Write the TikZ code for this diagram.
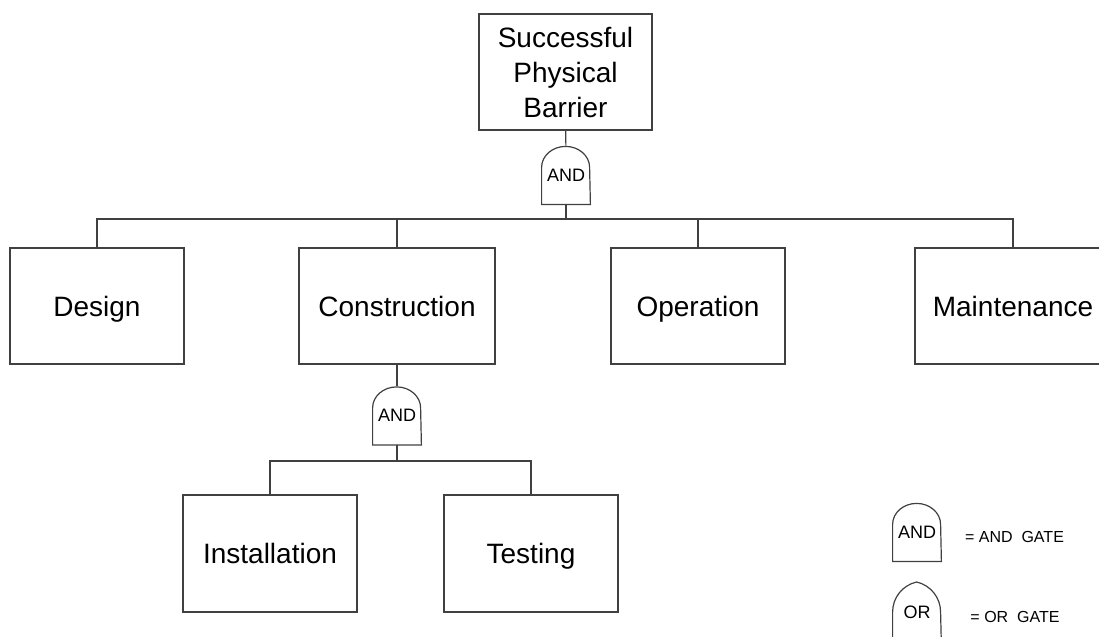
\documentclass[tikz,border=0pt]{standalone}
\usepackage{fontspec}
\setmainfont{Liberation Sans}
\begin{document}
\begin{tikzpicture}[x=0.5pt, y=-0.5pt,
    wire/.style = {draw=black!75, line width=0.6pt},
    box/.style = {wire, shape=rectangle, align=center,
      minimum width=87pt, minimum height=58pt, inner sep=0pt,
      font=\fontsize{14}{17.5}\selectfont},
    event/.style = {box, text height=13pt, text depth=3pt},
    widebox/.style = {event, minimum width=98pt},
    andgate/.style = {minimum width=24pt, minimum height=29pt, inner sep=0pt,
      font=\fontsize{9}{10}\selectfont,
      append after command={\pgfextra{\draw[wire] (\tikzlastnode.south west)
        -- ++(0,18.5pt) arc[start angle=180, end angle=0, x radius=12pt, y radius=10.5pt]
        -- (\tikzlastnode.south east) -- cycle;}}},
    orgate/.style = {minimum width=24pt, minimum height=29pt, inner sep=0pt,
      font=\fontsize{9}{10}\selectfont,
      append after command={\pgfextra{\draw[wire] ([yshift=-2.5pt]\tikzlastnode.south west)
        -- (\tikzlastnode.west) arc[start angle=180, end angle=102.7, radius=15.375pt]
        arc[start angle=77.3, end angle=0, radius=15.375pt]
        -- ([yshift=-2.5pt]\tikzlastnode.south east)
        to[bend right=30] ([yshift=-2.5pt]\tikzlastnode.south west);}}},
    legend/.style = {font=\fontsize{8}{9}\selectfont, inner sep=0pt}]
  \clip (0,0) rectangle (1099,637);

  % top event and first gate
  \node[box, minimum width=86.5pt] (top) at (565.5,72) {Successful\\Physical\\Barrier};
  \node[andgate] (g1) at (566,175) {AND};
  \node[event] (design) at (97,306) {Design};
  \node[widebox] (constr) at (397,306) {Construction};
  \node[event] (oper) at (698,306) {Operation};
  \node[widebox] (maint) at (1013,306) {Maintenance};
  \coordinate (bus1) at (566,219);
  \draw[wire] (top) -- (g1);
  \draw[wire] (g1.south) -- (bus1);
  \foreach \c in {design,constr,oper,maint}
    \draw[wire] (bus1) -| (\c.north);

  % construction branch
  \node[andgate] (g2) at (397,415.5) {AND};
  \node[event, minimum height=58.5pt] (install) at (270,553.5) {Installation};
  \node[event, minimum height=58.5pt] (test) at (531,553.5) {Testing};
  \coordinate (bus2) at (397,461);
  \draw[wire] (constr) -- (g2);
  \draw[wire] (g2.south) -- (bus2);
  \foreach \c in {install,test}
    \draw[wire] (bus2) -| (\c.north);

  % legend
  \node[andgate] (keyand) at (917,532) {AND};
  \node[legend] (andtxt) at (1014.5,537) {= AND~~GATE};
  \node[orgate] (keyor) at (917,612) {OR};
  \node[legend] (ortxt) at (1015,617) {= OR~~GATE};
\end{tikzpicture}
\end{document}
